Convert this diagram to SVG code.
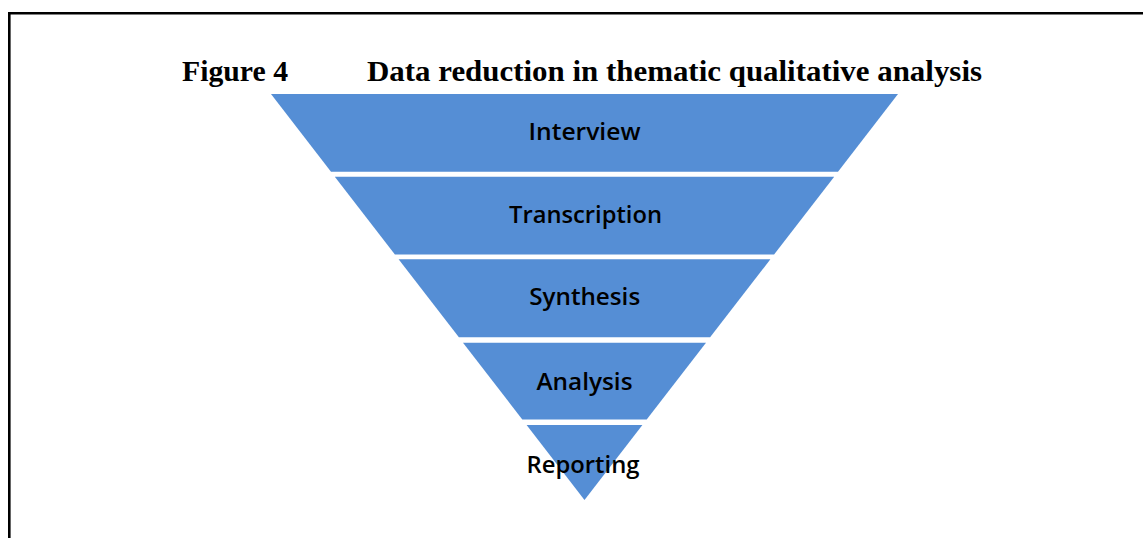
<svg xmlns="http://www.w3.org/2000/svg" width="1143" height="538" viewBox="0 0 1143 538">
  <style>
    .frame { fill: none; stroke: #000; stroke-width: 2.6; }
    .title { font-family: "Liberation Serif", "Times New Roman", serif; font-weight: bold; font-size: 30px; fill: #000; }
    .band { fill: #558ED5; }
    .label { font-family: "Open Sans", "Noto Sans", sans-serif; font-size: 24px; font-weight: 600; fill: #000; text-anchor: middle; }
  </style>
  <rect width="1143" height="538" fill="#fff"/>
  <!-- page frame: top and left rules -->
  <path class="frame" d="M9.3,538 V13.3 H1143"/>

  <!-- caption -->
  <g id="caption">
    <text class="title" x="182" y="81" textLength="106" lengthAdjust="spacingAndGlyphs">Figure 4</text>
    <text class="title" x="367" y="81" textLength="615" lengthAdjust="spacingAndGlyphs">Data reduction in thematic qualitative analysis</text>
  </g>

  <!-- funnel stages, top to bottom -->
  <g id="stage-interview">
    <polygon class="band" points="271,94 898,94 838,171.7 331,171.7"/>
    <text class="label" x="584.5" y="140" textLength="112" lengthAdjust="spacingAndGlyphs">Interview</text>
  </g>
  <g id="stage-transcription">
    <polygon class="band" points="334.8,176.7 834.2,176.7 774.1,254.5 394.9,254.5"/>
    <text class="label" x="585.5" y="223" textLength="153" lengthAdjust="spacingAndGlyphs">Transcription</text>
  </g>
  <g id="stage-synthesis">
    <polygon class="band" points="398.6,259.3 770.4,259.3 710.1,337.3 458.9,337.3"/>
    <text class="label" x="584.7" y="305" textLength="111" lengthAdjust="spacingAndGlyphs">Synthesis</text>
  </g>
  <g id="stage-analysis">
    <polygon class="band" points="463,342.7 706,342.7 646.7,419.5 522.3,419.5"/>
    <text class="label" x="584.5" y="390" textLength="96" lengthAdjust="spacingAndGlyphs">Analysis</text>
  </g>
  <g id="stage-reporting">
    <polygon class="band" points="526.6,425 642.4,425 584.5,500"/>
    <text class="label" x="583" y="473" textLength="113" lengthAdjust="spacingAndGlyphs">Reporting</text>
  </g>
</svg>
